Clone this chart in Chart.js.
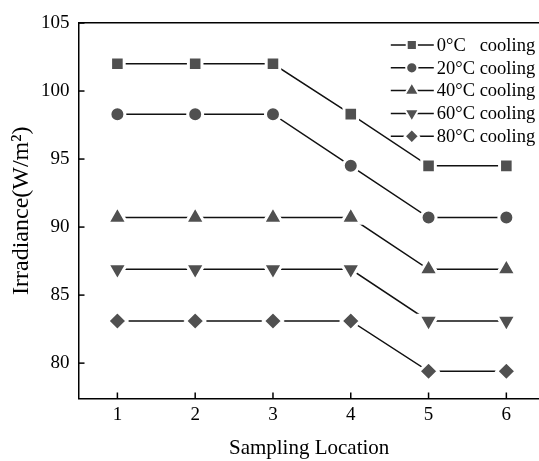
<!DOCTYPE html>
<html>
<head>
<meta charset="utf-8">
<script src="https://cdn.jsdelivr.net/npm/chart.js@4.4.1/dist/chart.umd.min.js"></script>
<style>
  html, body { margin: 0; padding: 0; background: #fff; overflow: hidden; }
  #wrap { width: 539px; height: 461px; overflow: hidden; }
</style>
</head>
<body>
<div id="wrap"><canvas id="irrChart" width="554" height="461"></canvas></div>
<script>
// data
const locations = [1, 2, 3, 4, 5, 6];
const seriesNames = ['0°C   cooling', '20°C cooling', '40°C cooling', '60°C cooling', '80°C cooling'];
const cool0  = [102.0, 102.0, 102.0, 98.3, 94.5, 94.5];
const cool20 = [98.3, 98.3, 98.3, 94.5, 90.7, 90.7];
const cool40 = [90.7, 90.7, 90.7, 90.7, 86.9, 86.9];
const cool60 = [86.9, 86.9, 86.9, 86.9, 83.1, 83.1];
const cool80 = [83.1, 83.1, 83.1, 83.1, 79.4, 79.4];
const yTicks = [80, 85, 90, 95, 100, 105];

const FONT = '"Liberation Serif", "Times New Roman", serif';
const markColor = '#505050';

// marker style per series: [pointStyle, radius, rotation]
const markers = [
    ['rect', 9.6, 0],
    ['circle', 7.5, 0],
    ['triangle', 11.2, 0],
    ['triangle', 11.2, 180],
    ['rectRot', 9.6, 0]
];

const allValues = [cool0, cool20, cool40, cool60, cool80];

const datasets = allValues.map((vals, i) => ({
    label: seriesNames[i],
    data: locations.map((x, j) => ({ x: x, y: vals[j] })),
    borderColor: '#111',
    borderWidth: 1.5,
    pointStyle: markers[i][0],
    pointRadius: markers[i][1],
    pointRotation: markers[i][2],
    pointBackgroundColor: markColor,
    pointBorderColor: '#fff',
    pointBorderWidth: 3,
    pointHoverRadius: markers[i][1],
    tension: 0
}));

// inward tick marks on the x and y axes
const innerTicks = {
    id: 'innerTicks',
    afterDraw(chart) {
        const ctx = chart.ctx;
        const xs = chart.scales.x, ys = chart.scales.y;
        ctx.save();
        ctx.strokeStyle = '#000';
        ctx.lineWidth = 1.5;
        xs.ticks.forEach(t => {
            const px = xs.getPixelForValue(t.value);
            ctx.beginPath();
            ctx.moveTo(px, xs.top);
            ctx.lineTo(px, xs.top - 6);
            ctx.stroke();
        });
        ys.ticks.forEach(t => {
            const py = ys.getPixelForValue(t.value);
            ctx.beginPath();
            ctx.moveTo(ys.right, py);
            ctx.lineTo(ys.right + 6, py);
            ctx.stroke();
        });
        ctx.restore();
    }
};

// legend: line - marker - line, then label
const lineLegend = {
    id: 'lineLegend',
    afterDraw(chart) {
        const ctx = chart.ctx;
        const area = chart.chartArea;
        const x0 = area.right - 149, x1 = area.right - 106, mx = area.right - 128;
        let y = area.top + 22;
        ctx.save();
        ctx.font = '18.5px ' + FONT;
        ctx.textBaseline = 'middle';
        chart.data.datasets.forEach(ds => {
            ctx.strokeStyle = '#111';
            ctx.lineWidth = 1.5;
            ctx.beginPath();
            ctx.moveTo(x0, y);
            ctx.lineTo(x1, y);
            ctx.stroke();
            ctx.fillStyle = markColor;
            ctx.strokeStyle = '#fff';
            ctx.lineWidth = 2;
            Chart.helpers.drawPoint(ctx, {
                pointStyle: ds.pointStyle,
                rotation: ds.pointRotation,
                radius: ds.pointRadius * 0.75,
                borderWidth: 2
            }, mx, y);
            ctx.fillStyle = '#000';
            ctx.fillText(ds.label, x1 + 3, y + 1);
            y += 22.8;
        });
        ctx.restore();
    }
};

new Chart(document.getElementById('irrChart'), {
    type: 'line',
    data: { datasets: datasets },
    options: {
        responsive: false,
        animation: false,
        events: [],
        layout: { padding: 0 },
        plugins: {
            legend: { display: false },
            tooltip: { enabled: false }
        },
        scales: {
            x: {
                type: 'linear',
                position: 'bottom',
                min: 0.5,
                max: 6.43,
                afterFit: s => { s.height = 62.5; },
                afterBuildTicks: s => { s.ticks = locations.map(v => ({ value: v })); },
                ticks: { color: '#000', padding: 5, font: { family: FONT, size: 19 } },
                grid: { display: false, drawTicks: false },
                border: { display: true, color: '#000', width: 1.5 },
                title: {
                    display: true,
                    text: 'Sampling Location',
                    color: '#000',
                    font: { family: FONT, size: 21, lineHeight: 1.2 },
                    padding: { top: 0, bottom: 0 }
                }
            },
            x2: {
                type: 'linear',
                position: 'top',
                min: 0.5,
                max: 6.43,
                afterFit: s => { s.height = 23; },
                ticks: { display: false },
                grid: { display: false, drawTicks: false },
                border: { display: true, color: '#000', width: 1.5 }
            },
            y: {
                min: 77.4,
                max: 105,
                afterFit: s => { s.width = 78.5; },
                afterBuildTicks: s => { s.ticks = yTicks.map(v => ({ value: v })); },
                ticks: { color: '#000', padding: 9, font: { family: FONT, size: 19 } },
                grid: { display: false, drawTicks: false },
                border: { display: true, color: '#000', width: 1.5 },
                title: {
                    display: true,
                    text: 'Irradiance(W/m²)',
                    color: '#000',
                    font: { family: FONT, size: 24, lineHeight: 1.2 },
                    padding: { top: 7, bottom: 0 }
                }
            }
        }
    },
    plugins: [innerTicks, lineLegend]
});
</script>
</body>
</html>
